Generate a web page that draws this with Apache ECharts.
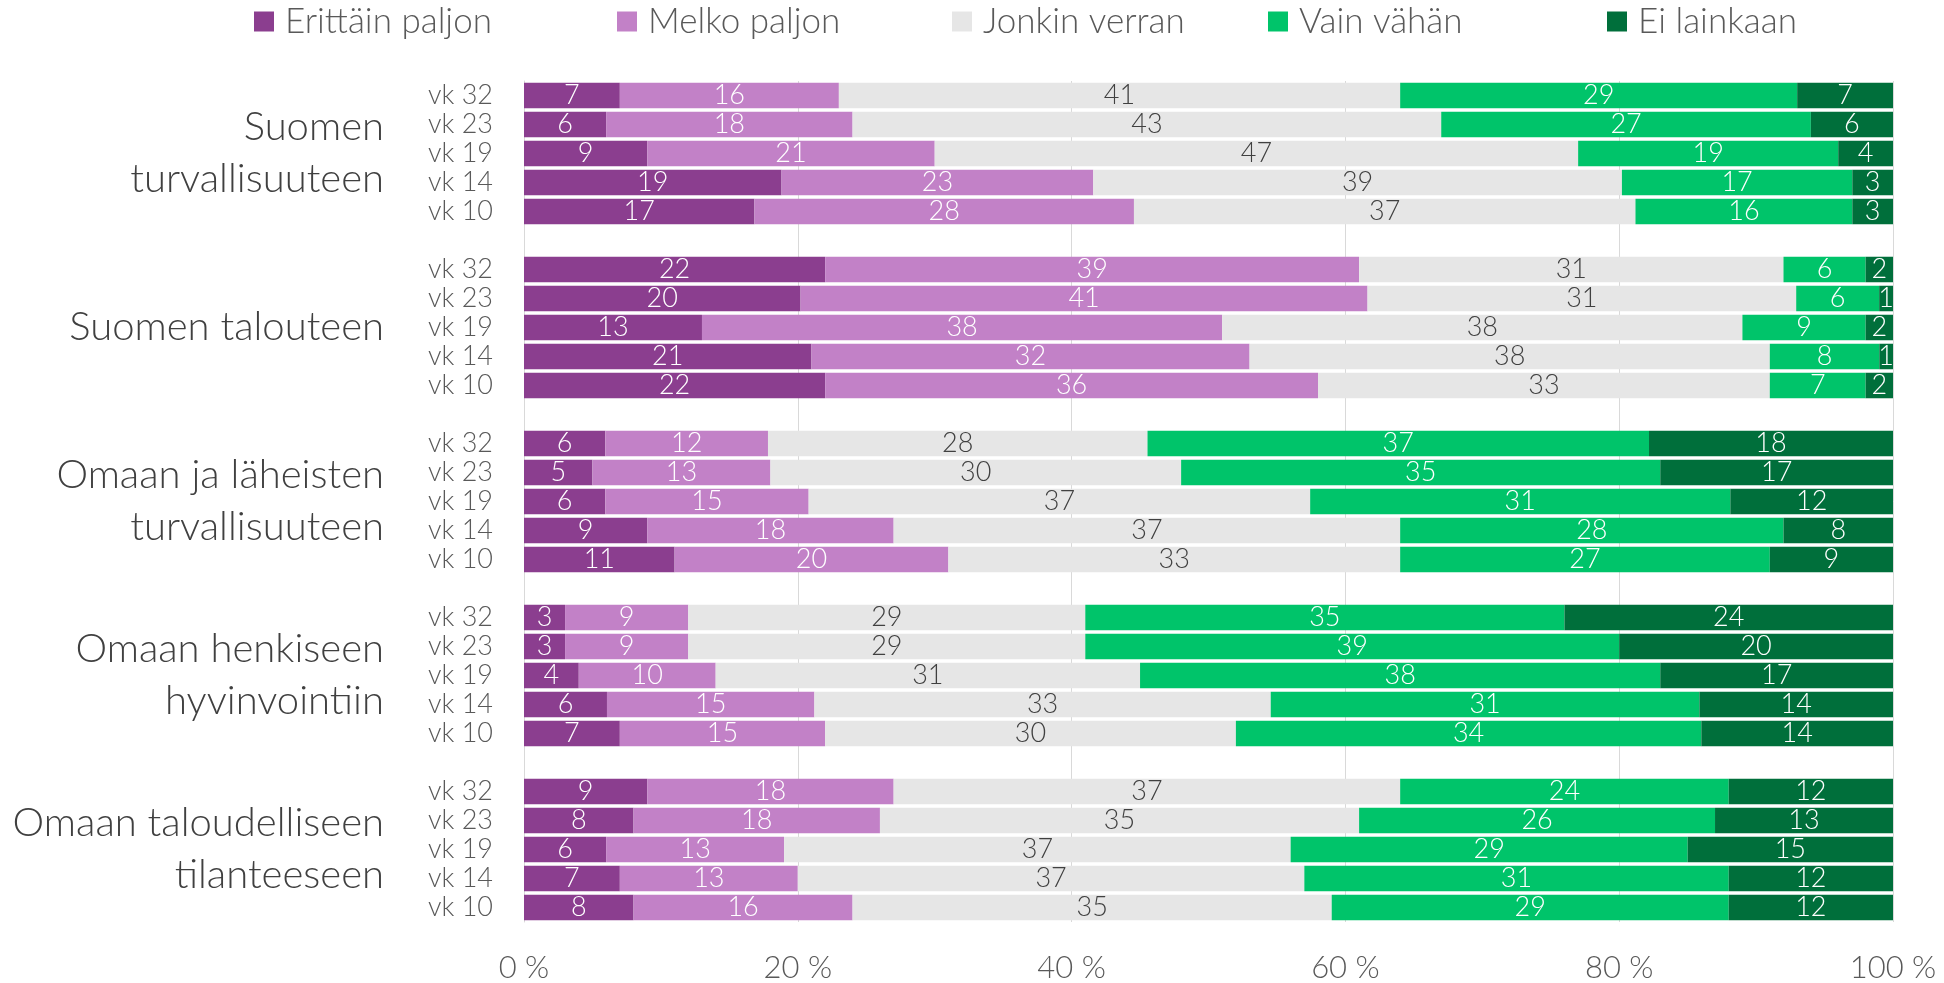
<!DOCTYPE html>
<html>
<head>
<meta charset="utf-8">
<script src="https://cdn.jsdelivr.net/npm/echarts@6/dist/echarts.min.js"></script>
<style>
  html, body { margin: 0; padding: 0; background: #fff; }
  #main { width: 1944px; height: 983px; }
</style>
</head>
<body>
<div id="main"></div>
<script>
// rows top to bottom inside each group
const weeks = ['vk 32', 'vk 23', 'vk 19', 'vk 14', 'vk 10'];
const groups = [
  'Suomen\nturvallisuuteen',
  'Suomen talouteen',
  'Omaan ja läheisten\nturvallisuuteen',
  'Omaan henkiseen\nhyvinvointiin',
  'Omaan taloudelliseen\ntilanteeseen'
];
const seriesNames = ['Erittäin paljon', 'Melko paljon', 'Jonkin verran', 'Vain vähän', 'Ei lainkaan'];
const colors = ['#8b3e8f', '#c281c7', '#e6e6e6', '#00c46a', '#006f3b'];

// values per series, group by group (vk 32 .. vk 10)
const erittain = [7, 6, 9, 19, 17,   22, 20, 13, 21, 22,   6, 5, 6, 9, 11,    3, 3, 4, 6, 7,      9, 8, 6, 7, 8];
const melko    = [16, 18, 21, 23, 28, 39, 41, 38, 32, 36,  12, 13, 15, 18, 20, 9, 9, 10, 15, 15,  18, 18, 13, 13, 16];
const jonkin   = [41, 43, 47, 39, 37, 31, 31, 38, 38, 33,  28, 30, 37, 37, 33, 29, 29, 31, 33, 30, 37, 35, 37, 37, 35];
const vain     = [29, 27, 19, 17, 16, 6, 6, 9, 8, 7,       37, 35, 31, 28, 27, 35, 39, 38, 31, 34, 24, 26, 29, 31, 29];
const eiLain   = [7, 6, 4, 3, 3,      2, 1, 2, 1, 2,       18, 17, 12, 8, 9,  24, 20, 17, 14, 14, 12, 13, 15, 12, 12];
const values = [erittain, melko, jonkin, vain, eiLain];

const xTicks = [0, 20, 40, 60, 80, 100];

// category keys with an empty row between groups
const keys = [];
const rowIndex = [];
groups.forEach((g, gi) => {
  weeks.forEach((w, wi) => {
    keys.push(gi + '|' + wi);
    rowIndex.push(gi * weeks.length + wi);
  });
  if (gi < groups.length - 1) {
    keys.push('gap' + gi);
    rowIndex.push(-1);
  }
});

const totals = erittain.map((_, i) => values.reduce((s, arr) => s + arr[i], 0));

const FONT = 'Lato';
const legendLeft = [254, 617, 952, 1268, 1607];

const series = seriesNames.map((name, si) => ({
  name: name,
  type: 'bar',
  stack: 'all',
  barCategoryGap: '12%',
  itemStyle: { color: colors[si] },
  label: {
    show: true,
    position: 'inside',
    fontFamily: FONT,
    fontWeight: 300,
    fontSize: 27,
    color: si === 2 ? '#404040' : '#ffffff',
    formatter: p => p.data.raw
  },
  emphasis: { disabled: true },
  data: rowIndex.map(r => r < 0 ? '-' : { value: values[si][r] / totals[r] * 100, raw: values[si][r] })
}));

const chart = echarts.init(document.getElementById('main'));
chart.setOption({
  animation: false,
  backgroundColor: '#ffffff',
  legend: seriesNames.map((name, i) => ({
    top: 4,
    left: legendLeft[i],
    padding: 0,
    itemWidth: 20,
    itemHeight: 20,
    itemGap: 10,
    icon: 'rect',
    textStyle: { fontFamily: FONT, fontWeight: 300, fontSize: 35, color: '#595959', padding: [0, 0, 0, 6] },
    data: [name]
  })),
  grid: { left: 524, right: 51, top: 81, bottom: 61 },
  xAxis: {
    type: 'value',
    min: 0,
    max: 100,
    interval: 20,
    axisLine: { show: false },
    axisTick: { show: false },
    splitLine: { show: true, lineStyle: { color: '#d9d9d9', width: 1 } },
    axisLabel: {
      margin: 30,
      fontFamily: FONT,
      fontWeight: 300,
      fontSize: 31,
      color: '#595959',
      customValues: xTicks,
      formatter: v => v + ' %'
    }
  },
  yAxis: [
    {
      type: 'category',
      inverse: true,
      data: keys,
      axisLine: { show: true, lineStyle: { color: '#d9d9d9', width: 1 } },
      axisTick: { show: false },
      axisLabel: {
        interval: 0,
        margin: 31,
        fontFamily: FONT,
        fontWeight: 300,
        fontSize: 27,
        color: '#595959',
        formatter: v => v.indexOf('|') < 0 ? '' : weeks[+v.split('|')[1]]
      }
    },
    {
      type: 'category',
      inverse: true,
      position: 'left',
      data: keys,
      axisLine: { show: false },
      axisTick: { show: false },
      splitLine: { show: false },
      axisLabel: {
        interval: 0,
        margin: 140,
        fontFamily: FONT,
        fontWeight: 300,
        fontSize: 40,
        lineHeight: 52,
        color: '#404040',
        formatter: v => {
          if (v.indexOf('|') < 0) return '';
          const parts = v.split('|');
          return parts[1] === '2' ? groups[+parts[0]] : '';
        }
      }
    }
  ],
  series: series
});
</script>
</body>
</html>
